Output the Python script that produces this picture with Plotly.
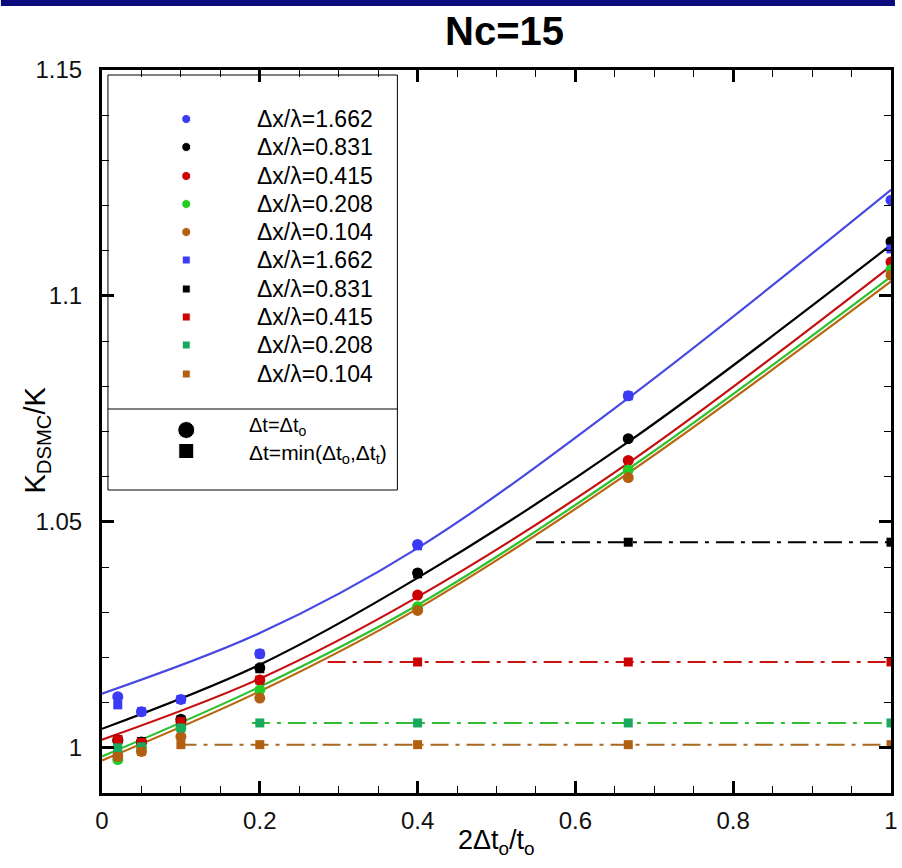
import plotly.graph_objects as go

# ---------------- data ----------------
x_pts = [0.02, 0.05, 0.1, 0.2, 0.4, 0.667, 1.0]
labels = ["Δx/λ=1.662", "Δx/λ=0.831", "Δx/λ=0.415", "Δx/λ=0.208", "Δx/λ=0.104"]

circ_blue = [1.0113, 1.0080, 1.0107, 1.0208, 1.0450, 1.0779, 1.1212]
circ_black = [1.0016, 1.0013, 1.0063, 1.0177, 1.0387, 1.0684, 1.1120]
circ_red = [1.0018, 1.0012, 1.0058, 1.0150, 1.0338, 1.0636, 1.1075]
circ_green = [0.9974, 1.0000, 1.0044, 1.0128, 1.0312, 1.0615, 1.1058]
circ_brown = [0.9982, 0.9992, 1.0025, 1.0110, 1.0304, 1.0598, 1.1046]

sq_blue = [1.0095, 1.0080, 1.0107, 1.0208, 1.0447, 1.0779, 1.1104]
sq_black = [1.0018, 1.0014, 1.0062, 1.0175, 1.0385, 1.0455, 1.0455]
sq_red = [1.0018, 1.0012, 1.0058, 1.0150, 1.0190, 1.0190, 1.0190]
sq_green = [1.0000, 1.0002, 1.0044, 1.0055, 1.0055, 1.0055, 1.0055]
sq_brown = [0.9980, 0.9992, 1.0007, 1.0007, 1.0007, 1.0007, 1.0007]

# fitted curves
fit_x = [0.0, 0.2, 0.4, 0.667, 1.0]
fit_blue = [1.0120, 1.0254, 1.0442, 1.0774, 1.1235]
fit_black = [1.0042, 1.0184, 1.0376, 1.0677, 1.1113]
fit_red = [1.0018, 1.0153, 1.0334, 1.0630, 1.1066]
fit_green = [0.9981, 1.0135, 1.0316, 1.0617, 1.1043]
fit_brown = [0.9972, 1.0125, 1.0308, 1.0608, 1.1032]

# flat (time-step limited) levels and their start
flat_black = ([0.55, 1.0], [1.0455, 1.0455])
flat_red = ([0.286, 1.0], [1.0190, 1.0190])
flat_green = ([0.19, 1.0], [1.0055, 1.0055])
flat_brown = ([0.097, 1.0], [1.0007, 1.0007])

c_circ = ["#3b3bf5", "#000000", "#cc0000", "#22cc22", "#b35f12"]
c_sq = ["#3b3bf5", "#000000", "#cc0000", "#18a860", "#b35f12"]
c_line = ["#4848e2", "#000000", "#c41010", "#2ec02e", "#b8660f"]
c_flat = ["#000000", "#cc1111", "#33bb33", "#a86a20"]

circles = [circ_blue, circ_black, circ_red, circ_green, circ_brown]
squares = [sq_blue, sq_black, sq_red, sq_green, sq_brown]
fits = [fit_blue, fit_black, fit_red, fit_green, fit_brown]
flats = [flat_black, flat_red, flat_green, flat_brown]

# ---------------- geometry (pixels) ----------------
W, H = 902, 868
L, R, T, B = 102, 898, 70, 793


def px(xp):
    return (xp - L) / (R - L)


def py(yp):
    return (B - yp) / (B - T)


fig = go.Figure()

for f, col in zip(fits, c_line):
    fig.add_trace(go.Scatter(x=fit_x, y=f, mode="lines", line=dict(color=col, width=2.2, shape="spline"),
                             showlegend=False, hoverinfo="skip"))
for (fx, fy), col in zip(flats, c_flat):
    fig.add_trace(go.Scatter(x=fx, y=fy, mode="lines", line=dict(color=col, width=2, dash="18px,7px,4px,7px"),
                             showlegend=False, hoverinfo="skip"))
for cy, col, lab in zip(circles, c_circ, labels):
    fig.add_trace(go.Scatter(x=x_pts, y=cy, mode="markers", name=lab,
                             marker=dict(symbol="circle", size=11, color=col, opacity=1), showlegend=False))
for sy, col, lab in zip(squares, c_sq, labels):
    fig.add_trace(go.Scatter(x=x_pts, y=sy, mode="markers", name=lab,
                             marker=dict(symbol="square", size=9, color=col, opacity=1), showlegend=False))

# ---------------- custom legend (pixel overlay axes) ----------------
leg_y = [119, 147, 176, 204, 232, 260, 289, 317, 345, 374]
leg_mx = 187
leg_tx = 256
leg_cols = c_circ + c_sq
leg_syms = ["circle"] * 5 + ["square"] * 5
leg_sizes = [9] * 5 + [8] * 5
leg_text = labels + labels
fig.add_trace(go.Scatter(x=[leg_mx] * 10, y=leg_y, mode="markers", xaxis="x2", yaxis="y2",
                         marker=dict(symbol=leg_syms, size=leg_sizes, color=leg_cols, opacity=1),
                         showlegend=False, hoverinfo="skip", cliponaxis=False))
fig.add_trace(go.Scatter(x=[187, 187], y=[430, 451], mode="markers", xaxis="x2", yaxis="y2",
                         marker=dict(symbol=["circle", "square"], size=[17, 15], color="#000000", opacity=1),
                         showlegend=False, hoverinfo="skip", cliponaxis=False))

FONT = "Liberation Sans, Arial"
annotations = []
for yy, tt in zip(leg_y, leg_text):
    annotations.append(dict(x=px(leg_tx), y=py(yy), xref="paper", yref="paper", text=tt, showarrow=False,
                            xanchor="left", yanchor="middle",
                            font=dict(family=FONT, size=23, color="#000000")))
annotations.append(dict(x=px(248), y=py(426), xref="paper", yref="paper", text="Δt=Δt<sub>o</sub>",
                        showarrow=False, xanchor="left", yanchor="middle",
                        font=dict(family=FONT, size=20, color="#000000")))
annotations.append(dict(x=px(248), y=py(454), xref="paper", yref="paper",
                        text="Δt=min(Δt<sub>o</sub>,Δt<sub>t</sub>)",
                        showarrow=False, xanchor="left", yanchor="middle",
                        font=dict(family=FONT, size=21, color="#000000")))
# title
annotations.append(dict(x=px(508), y=py(31), xref="paper", yref="paper", text="<b>Nc=15</b>", showarrow=False,
                        xanchor="center", yanchor="middle",
                        font=dict(family="Liberation Sans Narrow, Liberation Sans, Arial", size=40,
                                  color="#000000")))
# axis titles
annotations.append(dict(x=px(500), y=py(842), xref="paper", yref="paper", text="2Δt<sub>o</sub>/t<sub>o</sub>",
                        showarrow=False, xanchor="center", yanchor="middle",
                        font=dict(family=FONT, size=27, color="#000000")))
annotations.append(dict(x=px(36), y=py(440), xref="paper", yref="paper", text="K<sub>DSMC</sub>/K",
                        showarrow=False, xanchor="center", yanchor="middle", textangle=-90,
                        font=dict(family=FONT, size=29, color="#000000")))

shapes = [
    dict(type="rect", xref="paper", yref="paper", x0=px(108), x1=px(400), y0=py(490), y1=py(75),
         line=dict(color="#000000", width=1), fillcolor="rgba(0,0,0,0)", layer="above"),
    dict(type="line", xref="paper", yref="paper", x0=px(108), x1=px(400), y0=py(409), y1=py(409),
         line=dict(color="#000000", width=1), layer="above"),
    dict(type="rect", xref="paper", yref="paper", x0=px(0), x1=px(W), y0=py(6), y1=py(0),
         line=dict(width=0), fillcolor="#0b0b7d", layer="above"),
]

axis_font = dict(family=FONT, size=24, color="#111111")

fig.update_layout(
    width=W, height=H,
    margin=dict(l=L, r=W - R, t=T, b=H - B, pad=0),
    paper_bgcolor="white", plot_bgcolor="white",
    showlegend=False,
    xaxis=dict(range=[0, 1], tickvals=[0, 0.2, 0.4, 0.6, 0.8, 1.0],
               ticktext=["0", "0.2", "0.4", "0.6", "0.8", "1"],
               ticks="inside", ticklen=12, tickwidth=3, tickcolor="#000000",
               minor=dict(ticks="inside", ticklen=7, tickwidth=1, dtick=0.05, tick0=0, tickcolor="#000000"),
               showline=True, linewidth=3, linecolor="#000000", mirror="allticks",
               showgrid=False, zeroline=False, tickfont=axis_font, ticklabelstandoff=4),
    yaxis=dict(range=[0.99, 1.15], tickvals=[1.0, 1.05, 1.1, 1.15],
               ticktext=["1", "1.05", "1.1", "1.15"],
               ticks="inside", ticklen=12, tickwidth=3, tickcolor="#000000",
               minor=dict(ticks="inside", ticklen=7, tickwidth=1, dtick=0.01, tick0=1.0, tickcolor="#000000"),
               showline=True, linewidth=3, linecolor="#000000", mirror="allticks",
               showgrid=False, zeroline=False, tickfont=axis_font, ticklabelstandoff=12),
    xaxis2=dict(range=[L, R], overlaying="x", visible=False, fixedrange=True),
    yaxis2=dict(range=[B, T], overlaying="y", visible=False, fixedrange=True),
    annotations=annotations,
    shapes=shapes,
)

fig.write_html("out.html")
